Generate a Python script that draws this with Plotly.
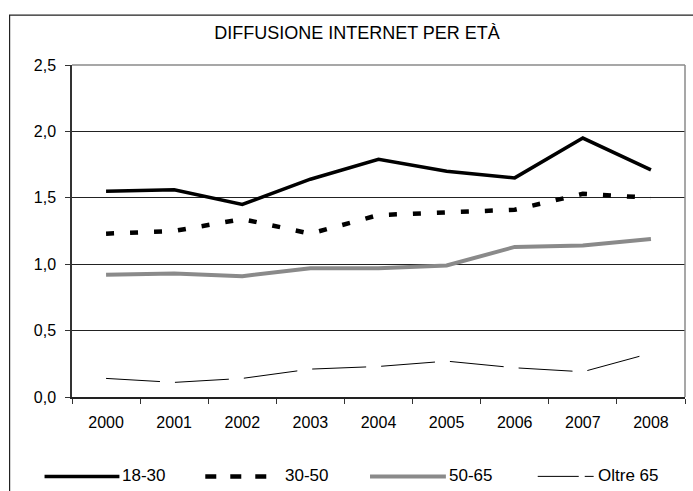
import plotly.graph_objects as go

# ---- data ----
years = ["2000", "2001", "2002", "2003", "2004", "2005", "2006", "2007", "2008"]
age_18_30 = [1.55, 1.56, 1.45, 1.64, 1.79, 1.70, 1.65, 1.95, 1.71]
age_30_50 = [1.23, 1.25, 1.34, 1.23, 1.37, 1.39, 1.41, 1.53, 1.50]
age_50_65 = [0.92, 0.93, 0.91, 0.97, 0.97, 0.99, 1.13, 1.14, 1.19]
oltre_65 = [0.14, 0.11, 0.14, 0.21, 0.23, 0.27, 0.22, 0.19, 0.33]
series_names = ["18-30", "30-50", "50-65", "Oltre 65"]
y_ticks = [0.0, 0.5, 1.0, 1.5, 2.0, 2.5]
title_text = "DIFFUSIONE INTERNET PER ETÀ"

# ---- styles ----
W, H = 693, 491
L, R, T, B = 71.5, 685.5, 65, 397.5
FONT = "Liberation Sans, Arial, sans-serif"
styles = [
    dict(color="#000000", width=3.5, dash="solid"),
    dict(color="#000000", width=4.5, dash="8px,16px"),
    dict(color="#8a8a8a", width=4, dash="solid"),
    dict(color="#000000", width=1, dash="54px,15px"),
]
legend_dash = ["solid", "11px,14px", "solid", "41px,6px"]
series_values = [age_18_30, age_30_50, age_50_65, oltre_65]

fig = go.Figure()
for name, vals, st in zip(series_names, series_values, styles):
    fig.add_trace(go.Scatter(x=years, y=vals, mode="lines", name=name,
                             line=st, showlegend=False))

def px(x):
    return (x - L) / (R - L)

def py(y):
    return (B - y) / (B - T)

shapes = []
# outer chart frame
shapes.append(dict(type="rect", xref="paper", yref="paper",
                   x0=px(9), x1=px(720), y0=py(520), y1=py(15),
                   line=dict(color="#222222", width=1.2)))
# plot-area top/right border (gray)
shapes.append(dict(type="line", xref="paper", yref="paper", x0=0, x1=1, y0=1, y1=1,
                   line=dict(color="#8a8a8a", width=1.5), layer="above"))
shapes.append(dict(type="line", xref="paper", yref="paper", x0=1, x1=1, y0=0, y1=1,
                   line=dict(color="#8a8a8a", width=1.5), layer="above"))

# custom legend (sample line start/end, text start) in pixels
legend_items = [(44, 119, 120), (205, 280, 283), (370, 446, 447), (538, 594, 596)]
legend_y = 477
annotations = []
for (x0, x1, xt), name, st, ld in zip(legend_items, series_names, styles, legend_dash):
    shapes.append(dict(type="line", xref="paper", yref="paper",
                       x0=px(x0), x1=px(x1), y0=py(legend_y), y1=py(legend_y),
                       line=dict(color=st["color"], width=st["width"], dash=ld)))
    annotations.append(dict(text=name, xref="paper", yref="paper",
                            x=px(xt), y=py(legend_y - 1), xanchor="left", yanchor="middle",
                            showarrow=False, font=dict(family=FONT, size=17, color="#000")))

fig.update_layout(
    width=W, height=H,
    margin=dict(l=L, r=W - R, t=T, b=H - B, pad=0),
    paper_bgcolor="white", plot_bgcolor="white",
    separators=",.",
    title=dict(text=title_text, xref="container", yref="container",
               x=357 / W, y=1 - 33 / H, xanchor="center", yanchor="middle",
               font=dict(family=FONT, size=18, color="#000")),
    font=dict(family=FONT, size=16, color="#000"),
    shapes=shapes, annotations=annotations,
    showlegend=False,
)
fig.update_xaxes(type="category", range=[-0.5, 8.5], tickson="boundaries",
                 ticks="outside", ticklen=5,
                 tickcolor="#333", showline=True, linecolor="#222", linewidth=1.5,
                 showgrid=False, ticklabelstandoff=10, automargin=False,
                 tickfont=dict(family=FONT, size=16, color="#000"))
fig.update_yaxes(range=[0, 2.5], tickvals=y_ticks, tickformat=".1f", ticks="outside",
                 ticklen=5, tickcolor="#333", showline=True, linecolor="#333",
                 linewidth=1.5, showgrid=True, gridcolor="#222", gridwidth=1,
                 zeroline=False, ticklabelstandoff=6, automargin=False,
                 tickfont=dict(family=FONT, size=16, color="#000"))

fig.write_html("out.html", config={"displayModeBar": False},
               post_script="document.body.style.margin='0px';")
